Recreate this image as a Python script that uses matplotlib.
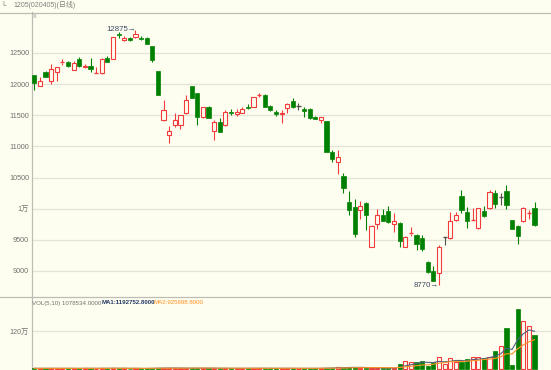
import matplotlib
matplotlib.use("Agg")
import matplotlib.pyplot as plt
from matplotlib.lines import Line2D
import numpy as np
import pandas as pd

plt.rcParams['font.family'] = ['Liberation Sans', 'Noto Sans CJK SC', 'DejaVu Sans']

# ---------------- data ----------------
opens = [12147,11978,12190,12043,12201,12345,12348,12228,12402,12277,
 12293,12169,12174,12413,12402,12810,12701,12734,12761,12739,
 12745,12609,12204,11425,11183,11344,11344,11532,11962,11855,
 11467,11640,11247,11397,11344,11559,11521,11543,11640,11640,
 11822,11828,11650,11553,11527,11620,11735,11652,11597,11594,
 11476,11428,11406,10912,10756,10530,10104,10034,9980,10093,
 9390,9755,9900,9970,9755,9766,9390,9599,9575,9532,
 9151,8995,8968,9543,9532,9812,10204,9946,9806,9694,
 9962,10016,10253,10188,10285,9812,9715,9796,9925,10011]
highs = [12150,12120,12212,12321,12283,12402,12364,12364,12429,12321,
 12418,12283,12418,12457,12761,12837,12772,12755,12875,12772,
 12755,12620,12210,11747,11328,11543,11505,11828,11970,11855,
 11640,11650,11424,11451,11586,11597,11602,11629,11683,11801,
 11855,11840,11661,11586,11586,11693,11774,11694,11640,11615,
 11484,11480,11410,10944,10944,10580,10281,10158,10120,10100,
 9735,9996,9996,10050,9927,9782,9567,9712,9594,9570,
 9160,9086,9420,9543,9946,9946,10306,10027,10016,10016,
 10038,10306,10296,10253,10376,9820,9731,10027,9984,10108]
lows = [11913,11975,12109,12000,12054,12310,12272,12228,12283,12255,
 12201,12163,12169,12348,12402,12745,12696,12696,12745,12701,
 12652,12348,11820,11409,11048,11317,11274,11522,11774,11344,
 11451,11451,11102,11225,11333,11505,11489,11532,11597,11640,
 11790,11629,11575,11489,11381,11532,11613,11586,11478,11446,
 11435,11368,10905,10756,10557,10254,9905,9540,9835,9658,
 9385,9674,9795,9775,9621,9379,9385,9567,9336,9328,
 8970,8833,8770,9425,9516,9801,9930,9694,9800,9680,
 9870,10000,10016,10054,10000,9677,9436,9785,9839,9715]
closes = [12022,12049,12109,12239,12272,12355,12293,12337,12293,12299,
 12239,12179,12408,12348,12761,12783,12739,12701,12799,12723,
 12652,12380,11828,11586,11253,11425,11505,11747,11774,11468,
 11629,11451,11397,11236,11548,11532,11553,11607,11613,11790,
 11833,11629,11586,11516,11543,11680,11638,11652,11572,11460,
 11436,11475,10910,10806,10836,10337,9986,9594,10050,9905,
 9728,9900,9798,9782,9808,9476,9551,9610,9430,9355,
 8979,8844,9393,9543,9801,9892,9984,9801,9817,10011,
 9876,10269,10070,10188,10054,9677,9554,10011,9935,9731]
volumes_k = [22, 18, 25, 20, 16, 24, 19, 21, 17, 26,
 23, 15, 28, 20, 35, 18, 16, 14, 22, 17,
 20, 30, 38, 33, 28, 25, 22, 30, 26, 32,
 21, 24, 27, 19, 23, 18, 20, 22, 25, 28,
 19, 24, 21, 18, 26, 23, 20, 15, 22, 25,
 19, 24, 45, 42, 52, 45, 55, 60, 40, 35,
 30, 28, 30, 25, 30, 158, 253, 210, 232, 253,
 95, 232, 389, 158, 337, 232, 232, 305, 389, 389,
 333.224, 370, 570, 740, 1280, 120, 1900, 1520, 1345.23, 1078.534]
price_ticks = [9000, 9500, 10000, 10500, 11000, 11500, 12000, 12500]
price_tick_labels = ['9000', '9500', '1万', '10500', '11000', '11500', '12000', '12500']
vol_ticks = [1200000]
vol_tick_labels = ['120万']
title_text = '1205(020405)(日线)'
max_label = '12875→'
min_label = '8770→'

# ---------------- style ----------------
BG = '#FEFEF0'
RED = '#F23C3C'
GREEN = '#008000'
GRAY = '#505050'
GRID = '#E3E3D8'
FRAME = '#BDBDB5'
TXT = '#707070'

W, H = 551, 370
fig = plt.figure(figsize=(W / 100, H / 100), dpi=100, facecolor=BG)

def fx(px):
    return px / W

def fy(py):
    return 1 - py / H

ax = fig.add_axes([fx(32), fy(296), fx(551) - fx(32), fy(12) - fy(296)], facecolor=BG)
axv = fig.add_axes([fx(32), fy(370), fx(551) - fx(32), fy(296) - fy(370)], facecolor=BG)

o = np.array(opens, float)
h = np.array(highs, float)
l = np.array(lows, float)
c = np.array(closes, float)
v = np.array(volumes_k, float) * 1000
x = np.arange(len(o))
bw = 0.74

colors = []
for oi, ci in zip(o, c):
    if ci > oi:
        colors.append(RED)
    elif ci < oi:
        colors.append(GREEN)
    else:
        colors.append(GRAY)

top = np.maximum(o, c)
bot = np.minimum(o, c)
# wicks
ax.vlines(x, top, h, colors=colors, linewidth=0.8, zorder=2)
ax.vlines(x, l, bot, colors=colors, linewidth=0.8, zorder=2)
# bodies
for i in range(len(x)):
    col = colors[i]
    hgt = top[i] - bot[i]
    if hgt < 12:
        ax.hlines((top[i] + bot[i]) / 2, x[i] - bw / 2, x[i] + bw / 2, colors=col, linewidth=1.0, zorder=3)
    elif col == RED:
        ax.bar(x[i], hgt, bottom=bot[i], width=bw, facecolor=BG, edgecolor=col, linewidth=0.8, zorder=3)
    else:
        ax.bar(x[i], hgt, bottom=bot[i], width=bw, facecolor=col, edgecolor=col, linewidth=0.5, zorder=3)

xlim = (-0.41, 91.93)
ax.set_xlim(*xlim)
ax.set_ylim(8598.6, 13158)
ax.set_yticks(price_ticks)
ax.set_yticklabels(price_tick_labels)
ax.set_xticks([])
ax.grid(axis='y', color=GRID, linewidth=0.9, zorder=0)
ax.tick_params(axis='y', length=0, pad=2, labelsize=5.2, labelcolor=TXT)
for s in ['top', 'right', 'bottom']:
    ax.spines[s].set_visible(False)
ax.spines['left'].set_color(FRAME)
ax.spines['left'].set_linewidth(0.9)

# max/min annotations
imax = int(np.argmax(h))
imin = int(np.argmin(l))
ax.text(imax + 0.1, h[imax], max_label, ha='right', va='center', fontsize=5.6, color='#3C4660', zorder=4)
ax.text(imin, l[imin], min_label, ha='right', va='center', fontsize=5.6, color='#3C4660', zorder=4)

# volume bars
vcolors = [GREEN if ci < oi else RED for oi, ci in zip(o, c)]
for i in range(len(x)):
    if vcolors[i] == RED:
        axv.bar(x[i], v[i], width=bw, facecolor=BG, edgecolor=RED, linewidth=0.8, zorder=3)
    else:
        axv.bar(x[i], v[i], width=bw, facecolor=GREEN, edgecolor=GREEN, linewidth=0.5, zorder=3)
vs = pd.Series(v)
ma5 = vs.rolling(5, min_periods=1).mean()
ma10 = vs.rolling(10, min_periods=1).mean()
axv.plot(x, ma5, color='#4E5F7C', linewidth=0.8, zorder=4)
axv.plot(x, ma10, color='#FF9428', linewidth=0.8, zorder=4)
axv.set_xlim(*xlim)
axv.set_ylim(-31579, 2305263)
axv.set_yticks(vol_ticks)
axv.set_yticklabels(vol_tick_labels)
axv.set_xticks([])
axv.grid(axis='y', color=GRID, linewidth=0.9, zorder=0)
axv.tick_params(axis='y', length=0, pad=2, labelsize=5.2, labelcolor=TXT)
for s in ['top', 'right', 'bottom']:
    axv.spines[s].set_visible(False)
axv.spines['left'].set_color(FRAME)
axv.spines['left'].set_linewidth(0.9)

# volume header
last_v = v[-1]
fig.text(fx(32), fy(303), 'VOL(5,10) %.4f' % last_v, fontsize=4.4, color='#707070', va='center', ha='left')
fig.text(fx(102), fy(303), 'MA1:%.4f' % ma5.iloc[-1], fontsize=4.4, color='#243A66', va='center', ha='left', fontweight='bold')
fig.text(fx(154), fy(303), 'MA2:%.4f' % ma10.iloc[-1], fontsize=4.4, color='#FF8C1A', va='center', ha='left')

# frame lines
fig.add_artist(Line2D([0, 1], [fy(12.5), fy(12.5)], transform=fig.transFigure, color=FRAME, linewidth=0.9))
fig.add_artist(Line2D([0, 1], [fy(296.5), fy(296.5)], transform=fig.transFigure, color=FRAME, linewidth=0.9))

# header
fig.text(fx(2), fy(5), 'L', fontsize=5, color='#808080', va='center', ha='left')
fig.text(fx(13), fy(5), title_text, fontsize=5, color='#808080', va='center', ha='left')
fig.text(fx(33), fy(17), 'X', fontsize=4, color='#909090', va='center', ha='left')

fig.savefig('out.png', dpi=100, facecolor=BG)
